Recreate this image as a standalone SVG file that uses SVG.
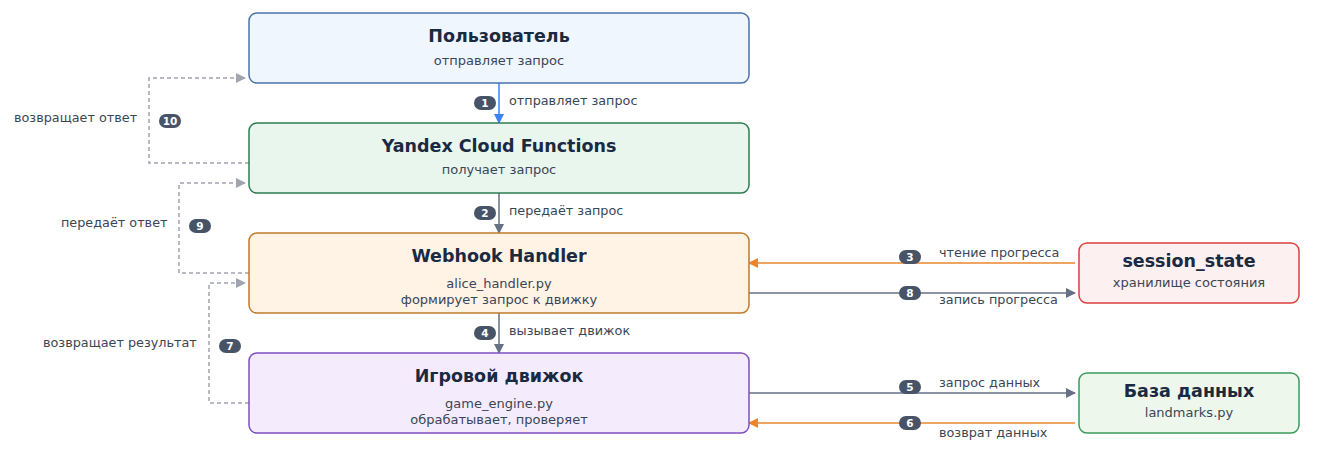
<svg xmlns="http://www.w3.org/2000/svg" width="1323" height="465" viewBox="0 0 1323 465">
<style>
text{font-family:"DejaVu Sans","Noto Sans",sans-serif}
.t{font-size:17.5px;font-weight:bold;fill:#1a2a40;text-anchor:middle}
.s{font-size:13px;fill:#3a4656;text-anchor:middle}
.l{font-size:12.8px;fill:#3a4656}
.b{fill:#475467}
.bt{font-size:10.5px;font-weight:bold;fill:#fff;text-anchor:middle}
.g{stroke:#667085;stroke-width:1.5;fill:none;marker-end:url(#ag)}
.o{stroke:#e8862f;stroke-width:1.5;fill:none;marker-end:url(#ao)}
.d{stroke:#a0a4ae;stroke-width:1.5;fill:none;stroke-dasharray:4,3;marker-end:url(#ad)}
</style>
<defs>
<marker id="ag" markerWidth="10" markerHeight="10" refX="9" refY="5" orient="auto" markerUnits="userSpaceOnUse"><path d="M0,0 L10,5 L0,10z" fill="#667085"/></marker>
<marker id="ao" markerWidth="10" markerHeight="10" refX="9" refY="5" orient="auto" markerUnits="userSpaceOnUse"><path d="M0,0 L10,5 L0,10z" fill="#e8862f"/></marker>
<marker id="ab" markerWidth="10" markerHeight="10" refX="9" refY="5" orient="auto" markerUnits="userSpaceOnUse"><path d="M0,0 L10,5 L0,10z" fill="#3b82f6"/></marker>
<marker id="ad" markerWidth="10" markerHeight="10" refX="9" refY="5" orient="auto" markerUnits="userSpaceOnUse"><path d="M0,0 L10,5 L0,10z" fill="#a0a4ae"/></marker>
</defs>
<rect width="1323" height="465" fill="#fff"/>
<g id="connectors">
<path d="M499,83 V123" stroke="#3b82f6" stroke-width="1.5" marker-end="url(#ab)"/>
<path class="g" d="M499,193 V233"/>
<path class="g" d="M499,313 V353"/>
<path class="o" d="M1075,263 H749"/>
<path class="g" d="M749,293 H1075"/>
<path class="g" d="M749,393 H1075"/>
<path class="o" d="M1075,423 H749"/>
<path class="d" d="M249,163 H149 V78 H245"/>
<path class="d" d="M249,273 H179 V183 H245"/>
<path class="d" d="M249,403 H209 V283 H245"/>
<g>
<rect class="b" x="474" y="96" width="22" height="14" rx="7"/><text class="bt" x="485" y="107">1</text>
<text class="l" x="509" y="105">отправляет запрос</text>
<rect class="b" x="474" y="206" width="22" height="14" rx="7"/><text class="bt" x="485" y="217">2</text>
<text class="l" x="509" y="215">передаёт запрос</text>
<rect class="b" x="474" y="326" width="22" height="14" rx="7"/><text class="bt" x="485" y="337">4</text>
<text class="l" x="509" y="335">вызывает движок</text>
<rect class="b" x="899" y="250" width="22" height="14" rx="7"/><text class="bt" x="910" y="261">3</text>
<text class="l" x="939" y="257">чтение прогресса</text>
<rect class="b" x="899" y="286" width="22" height="14" rx="7"/><text class="bt" x="910" y="297">8</text>
<text class="l" x="939" y="304">запись прогресса</text>
<rect class="b" x="899" y="380" width="22" height="14" rx="7"/><text class="bt" x="910" y="391">5</text>
<text class="l" x="939" y="387">запрос данных</text>
<rect class="b" x="899" y="416" width="22" height="14" rx="7"/><text class="bt" x="910" y="427">6</text>
<text class="l" x="939" y="437">возврат данных</text>
<rect class="b" x="159" y="114" width="22" height="14" rx="7"/><text class="bt" x="170" y="125">10</text>
<text class="l" x="14" y="122">возвращает ответ</text>
<rect class="b" x="189" y="219" width="22" height="14" rx="7"/><text class="bt" x="200" y="230">9</text>
<text class="l" x="61" y="227">передаёт ответ</text>
<rect class="b" x="219" y="339" width="22" height="14" rx="7"/><text class="bt" x="230" y="350">7</text>
<text class="l" x="43" y="347">возвращает результат</text>
</g>
</g>
<g id="user"><rect x="249" y="13" width="500" height="70" rx="8" fill="#f0f6fe" stroke="#4a72a8" stroke-width="1.5"/><text class="t" x="499" y="42">Пользователь</text><text class="s" x="499" y="65">отправляет запрос</text></g>
<g id="ycf"><rect x="249" y="123" width="500" height="70" rx="8" fill="#e8f6ee" stroke="#2e7d50" stroke-width="1.5"/><text class="t" x="499" y="152">Yandex Cloud Functions</text><text class="s" x="499" y="174">получает запрос</text></g>
<g id="webhook"><rect x="249" y="233" width="500" height="80" rx="8" fill="#fff3e6" stroke="#c07a2a" stroke-width="1.5"/><text class="t" x="499" y="262">Webhook Handler</text><text class="s" x="499" y="288">alice_handler.py</text><text class="s" x="499" y="304">формирует запрос к движку</text></g>
<g id="engine"><rect x="249" y="353" width="500" height="80" rx="8" fill="#f4ecfd" stroke="#7e4fc0" stroke-width="1.5"/><text class="t" x="499" y="382">Игровой движок</text><text class="s" x="499" y="408">game_engine.py</text><text class="s" x="499" y="424">обрабатывает, проверяет</text></g>
<g id="session"><rect x="1079" y="243" width="220" height="60" rx="8" fill="#fdf0f0" stroke="#d94040" stroke-width="1.5"/><text class="t" x="1189" y="267">session_state</text><text class="s" x="1189" y="287">хранилище состояния</text></g>
<g id="db"><rect x="1079" y="373" width="220" height="60" rx="8" fill="#eef7ec" stroke="#3a9a5a" stroke-width="1.5"/><text class="t" x="1189" y="397">База данных</text><text class="s" x="1189" y="417">landmarks.py</text></g>
</svg>
